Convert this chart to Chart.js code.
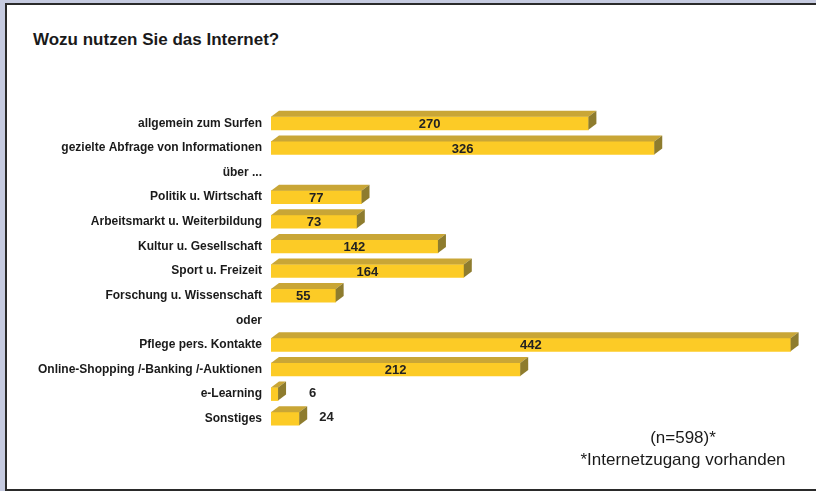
<!DOCTYPE html>
<html>
<head>
<meta charset="utf-8">
<script src="https://cdn.jsdelivr.net/npm/chart.js@4"></script>
<style>
html, body { margin:0; padding:0; }
body { width:816px; height:491px; background:#c6cbe0; position:relative; overflow:hidden; font-family:"Liberation Sans", Arial, sans-serif; }
#panel { position:absolute; left:5px; top:3px; width:830px; height:484px; background:#fff; border-top:2px solid #2a2a2a; border-left:2px solid #2a2a2a; border-bottom:2px solid #2a2a2a; }
#title { position:absolute; left:33px; top:30px; font-size:17px; font-weight:bold; color:#1a1a1a; }
#note { position:absolute; left:560px; width:246px; top:427px; text-align:center; font-size:17px; line-height:22px; color:#1a1a1a; }
#chart { position:absolute; left:0; top:0; }
</style>
</head>
<body>
<div id="panel"></div>
<div id="title">Wozu nutzen Sie das Internet?</div>
<canvas id="chart" width="816" height="491"></canvas>
<div id="note">(n=598)*<br>*Internetzugang vorhanden</div>
<script>

// ------------------------------
// DATA
// ------------------------------

const categories = [
    "allgemein zum Surfen",
    "gezielte Abfrage von Informationen",
    "über ...",
    "Politik u. Wirtschaft",
    "Arbeitsmarkt u. Weiterbildung",
    "Kultur u. Gesellschaft",
    "Sport u. Freizeit",
    "Forschung u. Wissenschaft",
    "oder",
    "Pflege pers. Kontakte",
    "Online-Shopping /-Banking /-Auktionen",
    "e-Learning",
    "Sonstiges"
]

const counts = [270, 326, null, 77, 73, 142, 164, 55, null, 442, 212, 6, 24]

const FRONT = "#fccb26"
const TOP = "#c9a636"
const SIDE = "#8e7c2e"
const DX = 8
const DY = 6

// ------------------------------
// 3D FACES + VALUE LABELS
// ------------------------------

const boxPlugin = {
    id:"box3d",
    afterDatasetsDraw(chart){
        const ctx = chart.ctx
        const meta = chart.getDatasetMeta(0)
        ctx.save()
        meta.data.forEach((bar, i) => {
            const v = counts[i]
            if(v === null || v === undefined) return
            const p = bar.getProps(["x","y","base","height"], true)
            const top = p.y - p.height/2
            const bottom = p.y + p.height/2

            // top face
            ctx.fillStyle = TOP
            ctx.beginPath()
            ctx.moveTo(p.base, top)
            ctx.lineTo(p.base + DX, top - DY)
            ctx.lineTo(p.x + DX, top - DY)
            ctx.lineTo(p.x, top)
            ctx.closePath()
            ctx.fill()

            // side face
            ctx.fillStyle = SIDE
            ctx.beginPath()
            ctx.moveTo(p.x, top)
            ctx.lineTo(p.x + DX, top - DY)
            ctx.lineTo(p.x + DX, bottom - DY)
            ctx.lineTo(p.x, bottom)
            ctx.closePath()
            ctx.fill()

            // value
            ctx.fillStyle = "#222"
            ctx.font = "bold 13px 'Liberation Sans', Arial, sans-serif"
            ctx.textBaseline = "middle"
            if(v >= 40){
                ctx.textAlign = "center"
                ctx.fillText(v, (p.base + p.x)/2, p.y + 1)
            } else {
                ctx.textAlign = "left"
                ctx.fillText(v, Math.max(p.x + DX + 12, p.base + 38), p.y - 1)
            }
        })
        ctx.restore()
    }
}

// ------------------------------
// CHART
// ------------------------------

const ctx = document.getElementById("chart").getContext("2d")

new Chart(ctx,{
    type:"bar",
    data:{
        labels:categories,
        datasets:[{
            data:counts,
            backgroundColor:FRONT,
            borderWidth:0,
            barThickness:13
        }]
    },
    options:{
        indexAxis:"y",
        responsive:false,
        animation:false,
        layout:{ padding:{ left:0, right:16, top:111, bottom:60 } },
        plugins:{
            legend:{ display:false },
            tooltip:{ enabled:false }
        },
        scales:{
            x:{
                display:false,
                min:0,
                max:450
            },
            y:{
                grid:{ display:false, drawTicks:false },
                border:{ display:false },
                afterFit(scale){ scale.width = 271 },
                ticks:{
                    padding:9,
                    color:"#1a1a1a",
                    font:{ family:"'Liberation Sans', Arial, sans-serif", size:12, weight:"bold" }
                }
            }
        }
    },
    plugins:[boxPlugin]
})

</script>
</body>
</html>
